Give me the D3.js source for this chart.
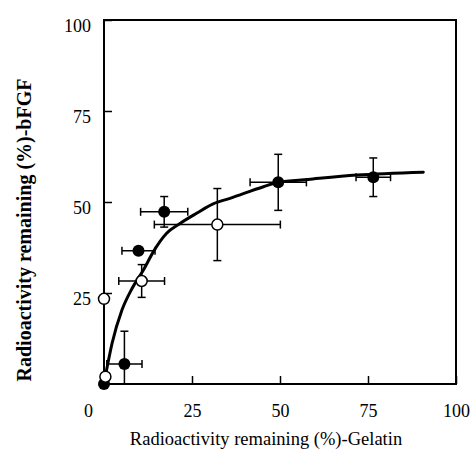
<!DOCTYPE html>
<html>
<head>
<meta charset="utf-8">
<script src="https://cdn.jsdelivr.net/npm/d3@7"></script>
<style>
  html, body { margin: 0; padding: 0; background: #fff; }
  svg { display: block; }
</style>
</head>
<body>
<svg id="chart" width="472" height="455"></svg>
<script>
// ---- data ----
const xTicks = [0, 25, 50, 75, 100];
const yTicks = [25, 50, 75, 100];

// filled circles (●)
const filledX    = [0, 5.8, 9.8, 17.1, 49.5, 76.5];
const filledY    = [0, 5.5, 36.6, 47.3, 55.4, 56.8];
const filledXErr = [0, 5.0, 4.7, 6.7, 8.0, 4.9];
const filledYErr = [0, 9.0, 0, 4.2, 7.7, 5.3];

// open circles (○)
const openX    = [0.4, 0, 10.7, 32.2];
const openY    = [2.0, 23.4, 28.3, 43.8];
const openXErr = [0, 0, 6.5, 17.9];
const openYErr = [0, 0, 4.5, 9.9];

// fitted curve
const curveX = [0.6, 2.3, 5.1, 8, 11.2, 14, 17.8, 21.6, 26.3, 31, 35.8, 45.3, 49.5, 58, 71.8, 90.7];
const curveY = [3.2, 11.2, 20.3, 26.3, 31.3, 36.3, 41.4, 44.1, 46.9, 49.5, 51, 54.2, 55.4, 56.2, 57.4, 58.2];

const xLabel = "Radioactivity remaining (%)-Gelatin";
const yLabel = "Radioactivity remaining (%)-bFGF";

// ---- layout ----
const FONT = "'Liberation Serif', serif";
const svg = d3.select("#chart").attr("font-family", FONT);
const mLeft = 104, mRight = 456, mTop = 20, mBottom = 384;
const x = d3.scaleLinear().domain([0, 100]).range([mLeft, mRight]);
const y = d3.scaleLinear().domain([0, 100]).range([mBottom, mTop]);

svg.append("defs").append("clipPath").attr("id", "plotclip")
  .append("rect").attr("x", mLeft).attr("y", mTop)
  .attr("width", mRight - mLeft).attr("height", mBottom - mTop);

// frame
svg.append("rect").attr("x", mLeft).attr("y", mTop)
  .attr("width", mRight - mLeft).attr("height", mBottom - mTop)
  .attr("fill", "none").attr("stroke", "#000").attr("stroke-width", 2);

// axes
const yAxis = svg.append("g").attr("transform", `translate(${mLeft},0)`)
  .call(d3.axisLeft(y).tickValues(yTicks).tickSize(-8).tickPadding(13).tickFormat(d3.format("d")));
yAxis.attr("font-family", null).attr("font-size", null);
yAxis.select(".domain").remove();
yAxis.selectAll("line").attr("stroke", "#000").attr("stroke-width", 1.5);
yAxis.selectAll("text").attr("dy", 11).attr("fill", "#000")
  .style("font-family", FONT).style("font-size", "18px");

const xAxis = svg.append("g").attr("transform", `translate(0,${mBottom})`)
  .call(d3.axisBottom(x).tickValues(xTicks).tickSize(-8).tickFormat(d3.format("d")));
xAxis.attr("font-family", null).attr("font-size", null);
xAxis.select(".domain").remove();
xAxis.selectAll("line").attr("stroke", "#000").attr("stroke-width", 1.5);
xAxis.selectAll("text").attr("y", 33).attr("dy", 0).attr("fill", "#000")
  .style("font-family", FONT).style("font-size", "18px");
xAxis.selectAll(".tick").filter(d => d === 0).select("text").attr("dx", -16);

// axis titles
svg.append("text")
  .attr("x", 266).attr("y", 445)
  .attr("text-anchor", "middle")
  .style("font-family", FONT).style("font-size", "18.5px")
  .text(xLabel);

svg.append("text")
  .attr("transform", "translate(31,230) rotate(-90)")
  .attr("text-anchor", "middle")
  .style("font-family", FONT).style("font-size", "20px").style("font-weight", "bold")
  .text(yLabel);

// error bars
const filled = filledX.map((v, i) => ({ x: v, y: filledY[i], ex: filledXErr[i], ey: filledYErr[i] }));
const open = openX.map((v, i) => ({ x: v, y: openY[i], ex: openXErr[i], ey: openYErr[i] }));

const eb = svg.append("g").attr("clip-path", "url(#plotclip)")
  .attr("stroke", "#000").attr("stroke-width", 1.5).attr("fill", "none");
const cap = 4;
[...filled, ...open].forEach(p => {
  if (p.ex > 0) {
    eb.append("line").attr("x1", x(p.x - p.ex)).attr("x2", x(p.x + p.ex))
      .attr("y1", y(p.y)).attr("y2", y(p.y));
    [p.x - p.ex, p.x + p.ex].forEach(v => eb.append("line")
      .attr("x1", x(v)).attr("x2", x(v)).attr("y1", y(p.y) - cap).attr("y2", y(p.y) + cap));
  }
  if (p.ey > 0) {
    eb.append("line").attr("x1", x(p.x)).attr("x2", x(p.x))
      .attr("y1", y(p.y - p.ey)).attr("y2", y(p.y + p.ey));
    [p.y - p.ey, p.y + p.ey].forEach(v => eb.append("line")
      .attr("x1", x(p.x) - cap).attr("x2", x(p.x) + cap).attr("y1", y(v)).attr("y2", y(v)));
  }
});

// fitted curve
const curve = curveX.map((v, i) => [v, curveY[i]]);
svg.append("path").datum(curve)
  .attr("fill", "none").attr("stroke", "#000").attr("stroke-width", 3)
  .attr("stroke-linejoin", "round").attr("stroke-linecap", "round")
  .attr("d", d3.line().x(d => x(d[0])).y(d => y(d[1])).curve(d3.curveMonotoneX));

// points
svg.append("g").selectAll("circle").data(filled).join("circle")
  .attr("cx", d => x(d.x)).attr("cy", d => y(d.y)).attr("r", 6)
  .attr("fill", "#000");
svg.append("g").selectAll("circle").data(open).join("circle")
  .attr("cx", d => x(d.x)).attr("cy", d => y(d.y)).attr("r", 5.5)
  .attr("fill", "#fff").attr("stroke", "#000").attr("stroke-width", 1.5);
</script>
</body>
</html>
